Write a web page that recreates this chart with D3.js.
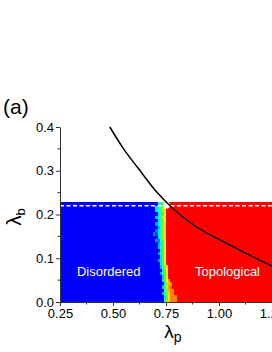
<!DOCTYPE html>
<html>
<head>
<meta charset="utf-8">
<script src="https://cdn.jsdelivr.net/npm/d3@7"></script>
<style>
  html, body { margin: 0; padding: 0; background: #fff; }
  svg { display: block; }
  text { font-family: "Liberation Sans", Arial, sans-serif; }
</style>
</head>
<body>
<svg id="chart" width="272" height="352"></svg>
<script>
// ---- data ----
const xTicks = [0.25, 0.50, 0.75, 1.00, 1.25];
const xTickLabels = ["0.25", "0.50", "0.75", "1.00", "1.25"];
const xMinorTicks = [0.375, 0.625, 0.875, 1.125];
const yTicks = [0.0, 0.1, 0.2, 0.3, 0.4];
const yTickLabels = ["0.0", "0.1", "0.2", "0.3", "0.4"];
const yMinorTicks = [0.05, 0.15, 0.25, 0.35];

// heat-map rows (bottom to top): lambda_p where the disordered (blue) phase ends,
// then order-parameter values of the 0.01-wide transition cells, then topological (red)
const rowHeight = 0.0076;
const rowStart = [0.74, 0.74, 0.73, 0.74, 0.73, 0.74, 0.73, 0.73, 0.72, 0.73,
                  0.72, 0.72, 0.71, 0.72, 0.71, 0.72, 0.71, 0.71, 0.70, 0.71,
                  0.69, 0.70, 0.71, 0.70, 0.71, 0.70, 0.71, 0.70, 0.70, 0.71];
const rowProfile = [
  [0.35, 0.55, 0.72, 0.83, 0.83, 0.83],
  [0.30, 0.50, 0.70, 0.83, 0.83, 0.83],
  [0.20, 0.40, 0.55, 0.72, 0.83, 0.83],
  [0.35, 0.55, 0.75, 0.83, 0.83],
  [0.25, 0.45, 0.60, 0.80, 0.83],
  [0.35, 0.55, 0.75, 0.83],
  [0.30, 0.50, 0.65, 0.80],
  [0.25, 0.50, 0.70],
  [0.20, 0.35, 0.50, 0.70],
  [0.30, 0.50, 0.68],
  [0.25, 0.40, 0.55, 0.70],
  [0.30, 0.50, 0.65],
  [0.20, 0.30, 0.45, 0.62],
  [0.30, 0.45, 0.65],
  [0.20, 0.35, 0.50, 0.68],
  [0.30, 0.50, 0.65],
  [0.25, 0.35, 0.50, 0.70],
  [0.20, 0.30, 0.45, 0.62],
  [0.20, 0.12, 0.35, 0.50, 0.65],
  [0.30, 0.40, 0.55, 0.70],
  [0.18, 0.08, 0.30, 0.40, 0.55, 0.70],
  [0.15, 0.30, 0.40, 0.55, 0.70],
  [0.25, 0.35, 0.55, 0.70],
  [0.20, 0.30, 0.40, 0.55, 0.70],
  [0.30, 0.35, 0.50, 0.65],
  [0.25, 0.35, 0.45, 0.60, 0.70],
  [0.30, 0.40, 0.50, 0.68],
  [0.30, 0.35, 0.40, 0.55, 0.70],
  [0.30, 0.35, 0.45, 0.60, 0.70],
  [0.35, 0.40, 0.50, 0.65]
];
const cellWidth = 0.01;
const dashedLevel = 0.22;

// theoretical boundary curve
const curveLambdaP = [0.485, 0.55, 0.62, 0.70, 0.78, 0.88, 1.00, 1.12, 1.25];
const curveLambdaB = [0.400, 0.350, 0.305, 0.255, 0.215, 0.176, 0.143, 0.113, 0.082];

const phaseLabels = [
  { text: "Disordered", p: 0.48, b: 0.07 },
  { text: "Topological", p: 1.04, b: 0.07 }
];

// ---- layout ----
const svg = d3.select("#chart");
const x = d3.scaleLinear().domain([0.25, 1.25]).range([60, 272]);
const y = d3.scaleLinear().domain([0, 0.4]).range([302, 127]);

// jet-like colour map (0 = blue, 1 = red)
const jet = d3.scaleLinear()
  .domain([0, 1/3, 0.5, 2/3, 1])
  .range(["#0000ff", "#00ffff", "#40ff40", "#ffff00", "#ff0000"])
  .interpolate(d3.interpolateRgb)
  .clamp(true);

const heat = svg.append("g").attr("shape-rendering", "crispEdges");
rowStart.forEach((s, i) => {
  const b0 = i * rowHeight, b1 = (i + 1) * rowHeight;
  const yTop = y(b1), h = y(b0) - y(b1);
  heat.append("rect").attr("x", x(0.25)).attr("y", yTop)
    .attr("width", x(s) - x(0.25)).attr("height", h).attr("fill", jet(0));
  const prof = rowProfile[i];
  prof.forEach((v, k) => {
    const p0 = s + k * cellWidth;
    heat.append("rect").attr("x", x(p0)).attr("y", yTop)
      .attr("width", x(p0 + cellWidth) - x(p0)).attr("height", h).attr("fill", jet(v));
  });
  const pe = s + prof.length * cellWidth;
  heat.append("rect").attr("x", x(pe)).attr("y", yTop)
    .attr("width", x(1.25) - x(pe)).attr("height", h).attr("fill", jet(1));
});

// white notch where the curve meets the top of the map
svg.append("ellipse").attr("cx", x(0.752)).attr("cy", y(0.222))
  .attr("rx", 3.5).attr("ry", 3.8).attr("fill", "#fff");

// dashed white line
svg.append("line")
  .attr("x1", x(0.25)).attr("x2", x(1.25))
  .attr("y1", y(dashedLevel)).attr("y2", y(dashedLevel))
  .attr("stroke", "#fff").attr("stroke-width", 1.3)
  .attr("stroke-dasharray", "4,2.5");

// phase labels
svg.selectAll("text.phase").data(phaseLabels).enter().append("text")
  .attr("class", "phase")
  .attr("x", d => x(d.p)).attr("y", d => y(d.b))
  .attr("dy", "0.35em")
  .attr("text-anchor", "middle")
  .attr("fill", "#fff").attr("font-size", 13)
  .text(d => d.text);

// boundary curve
const line = d3.line()
  .x((d, i) => x(curveLambdaP[i]))
  .y(d => y(d))
  .curve(d3.curveMonotoneX);
svg.append("path").datum(curveLambdaB)
  .attr("d", line).attr("fill", "none")
  .attr("stroke", "#000").attr("stroke-width", 1.5);

// axes
const axisColor = "#333";
const xAxis = d3.axisBottom(x).tickValues(xTicks)
  .tickFormat((d, i) => xTickLabels[i]).tickSize(4).tickSizeOuter(0).tickPadding(3);
const gx = svg.append("g").attr("transform", `translate(0,${y(0)})`).call(xAxis);
gx.selectAll(".tick text").attr("font-size", 13).attr("fill", "#000")
  .attr("font-family", "Liberation Sans, Arial, sans-serif");
gx.append("g").selectAll("line").data(xMinorTicks).enter().append("line")
  .attr("x1", d => x(d)).attr("x2", d => x(d)).attr("y1", 0).attr("y2", 2.5);

const yAxis = d3.axisLeft(y).tickValues(yTicks)
  .tickFormat((d, i) => yTickLabels[i]).tickSize(4).tickSizeOuter(0).tickPadding(2);
const gy = svg.append("g").attr("transform", `translate(${x(0.25)},0)`).call(yAxis);
gy.selectAll(".tick text").attr("font-size", 13).attr("fill", "#000")
  .attr("font-family", "Liberation Sans, Arial, sans-serif");
gy.append("g").selectAll("line").data(yMinorTicks).enter().append("line")
  .attr("y1", d => y(d)).attr("y2", d => y(d)).attr("x1", 0).attr("x2", -2.5);

[gx, gy].forEach(g => {
  g.selectAll("path, line").attr("stroke", axisColor).attr("stroke-width", 1);
});

// axis titles
const yt = svg.append("text")
  .attr("transform", "translate(21,217) rotate(-90)")
  .attr("text-anchor", "middle").attr("fill", "#000");
yt.append("tspan").attr("font-size", 21).text("λ");
yt.append("tspan").attr("font-size", 13).attr("dy", 4).text("b");

const xt = svg.append("text")
  .attr("x", 173).attr("y", 338)
  .attr("text-anchor", "middle").attr("fill", "#000");
xt.append("tspan").attr("font-size", 19).text("λ");
xt.append("tspan").attr("font-size", 14).attr("dy", 4).text("p");

// panel label
svg.append("text").attr("x", 3).attr("y", 114)
  .attr("font-size", 21).attr("fill", "#000").text("(a)");
</script>
</body>
</html>
